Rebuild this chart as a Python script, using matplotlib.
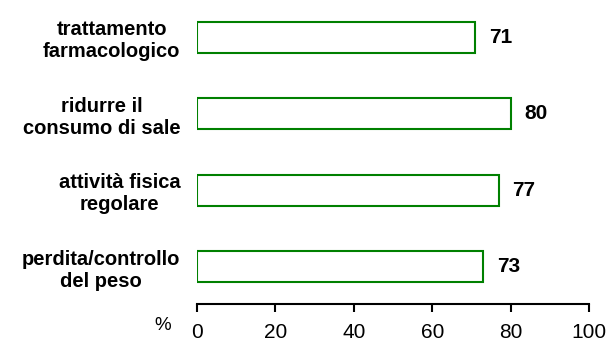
import matplotlib.pyplot as plt
import numpy as np

plt.rcParams["font.family"] = ["Liberation Sans", "DejaVu Sans"]

# data (top to bottom as in the picture)
categories = [
    "trattamento\nfarmacologico",
    "ridurre il\nconsumo di sale",
    "attività fisica\nregolare",
    "perdita/controllo\ndel peso",
]
values = [71, 80, 77, 73]
ticks = [0, 20, 40, 60, 80, 100]

fig = plt.figure(figsize=(6.1, 3.42), dpi=100)
ax = fig.add_axes([197 / 610, 38 / 342, 392 / 610, 304 / 342])

ypos = np.arange(len(categories))[::-1]
ax.barh(ypos, values, height=0.41, color="white", edgecolor="#008000", linewidth=1.5)

# value labels next to the bars
for y, v in zip(ypos, values):
    ax.text(v + 3.5, y, str(v), ha="left", va="center", fontsize=15, fontweight="bold")

ax.set_xlim(0, 100)
ax.set_ylim(-0.49, 3.49)
ax.set_xticks(ticks)
ax.set_xticklabels([str(t) for t in ticks], fontsize=15)
ax.set_yticks(ypos)
ax.set_yticklabels(categories, fontsize=14.5, fontweight="bold", multialignment="center",
                   linespacing=1.2)

for s in ["top", "right", "left"]:
    ax.spines[s].set_visible(False)
ax.spines["bottom"].set_linewidth(1.5)
ax.tick_params(axis="x", length=6, width=1.5, pad=8)
ax.tick_params(axis="y", length=0, pad=12)

fig.text(163 / 610, 1 - 325 / 342, "%", ha="center", va="center", fontsize=13.5)

fig.savefig("out.png", dpi=100)
